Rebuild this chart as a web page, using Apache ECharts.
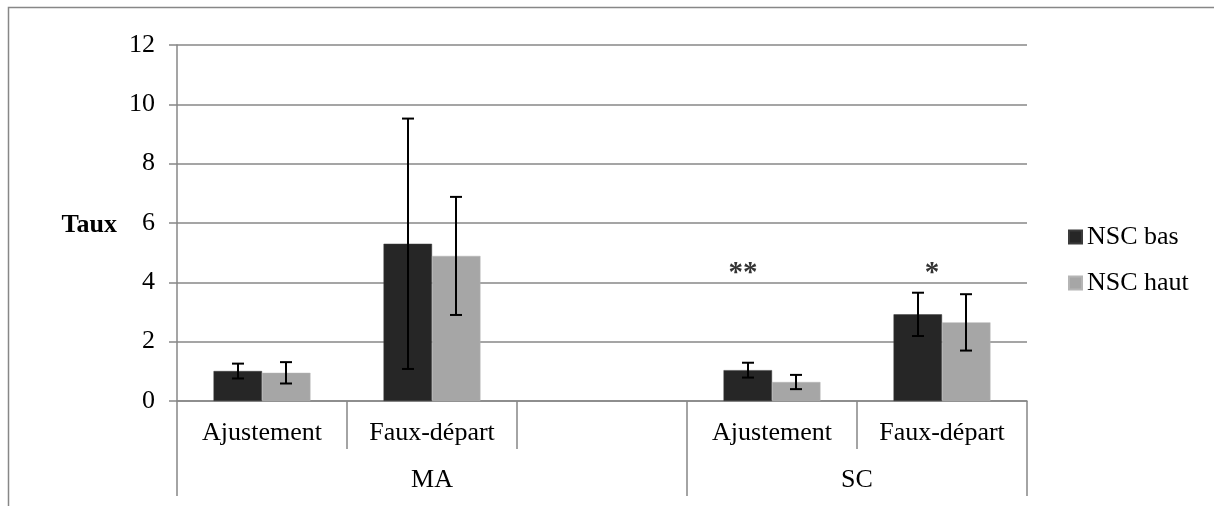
<!DOCTYPE html>
<html>
<head>
<meta charset="utf-8">
<script src="https://cdn.jsdelivr.net/npm/echarts@6/dist/echarts.min.js"></script>
<style>
html,body{margin:0;padding:0;background:#fff;}
#chart{width:1214px;height:506px;}
</style>
</head>
<body>
<div id="chart"></div>
<script>
// ---- data ----
var categories = ['Ajustement', 'Faux-départ', '', 'Ajustement', 'Faux-départ'];
var groups = ['MA', 'SC'];
var groupSpans = [3, 2];
var seriesNames = ['NSC bas', 'NSC haut'];
var nscBas = [1.01, 5.30, null, 1.04, 2.92];
var nscHaut = [0.95, 4.89, null, 0.64, 2.65];
var errBas = [0.25, 4.22, null, 0.25, 0.73];
var errHaut = [0.36, 1.99, null, 0.24, 0.95];
var yTicks = [0, 2, 4, 6, 8, 10, 12];
var stars = [
  { cat: 3, value: 4.3, text: '**' },
  { cat: 4, value: 4.3, text: '*' }
];
var yAxisTitle = 'Taux';

// ---- derived ----
var groupBounds = [0];
groupSpans.forEach(function (s, i) { groupBounds.push(groupBounds[i] + s); });
var groupCenters = groupSpans.map(function (s, i) { return groupBounds[i] + s / 2; });

var FONT = '"Liberation Serif", "Times New Roman", serif';
var GRID = '#878787';
var catGap = 0.43;

var errData = [];
[errBas, errHaut].forEach(function (errs, si) {
  var vals = si === 0 ? nscBas : nscHaut;
  errs.forEach(function (e, i) {
    if (e == null || vals[i] == null) return;
    errData.push([i, vals[i] - e, vals[i] + e, si]);
  });
});

var chart = echarts.init(document.getElementById('chart'));
chart.setOption({
  animation: false,
  backgroundColor: '#fff',
  textStyle: { fontFamily: FONT },
  grid: { left: 177, right: 187, top: 45, bottom: 105, containLabel: false },
  legend: {
    orient: 'vertical',
    left: 1063,
    top: 219,
    itemWidth: 13,
    itemHeight: 13,
    itemGap: 20,
    data: seriesNames,
    textStyle: { fontFamily: FONT, fontSize: 26, color: '#000', lineHeight: 26 },
    icon: 'rect'
  },
  xAxis: [{
    type: 'category',
    data: categories,
    axisLine: { lineStyle: { color: GRID, width: 1.5 } },
    axisTick: { show: true, interval: 0, length: 48, lineStyle: { color: GRID, width: 1.5 } },
    axisLabel: { interval: 0, fontFamily: FONT, fontSize: 26, color: '#000', margin: 19 },
    splitLine: { show: false }
  }, {
    type: 'value',
    min: 0,
    max: categories.length,
    position: 'bottom',
    axisLine: { show: false },
    splitLine: { show: false },
    axisTick: { show: true, customValues: groupBounds, length: 95, lineStyle: { color: GRID, width: 1.5 } },
    axisLabel: {
      customValues: groupCenters,
      fontFamily: FONT, fontSize: 26, color: '#000', margin: 66,
      formatter: function (v) {
        var idx = groupCenters.indexOf(v);
        return idx >= 0 ? groups[idx] : '';
      }
    }
  }],
  yAxis: {
    type: 'value',
    min: yTicks[0],
    max: yTicks[yTicks.length - 1],
    interval: yTicks[1] - yTicks[0],
    axisLine: { show: true, lineStyle: { color: GRID, width: 1.5 } },
    axisTick: { show: true, length: 8, lineStyle: { color: GRID, width: 1.5 } },
    axisLabel: { fontFamily: FONT, fontSize: 26, color: '#000', margin: 22 },
    splitLine: { show: true, lineStyle: { color: GRID, width: 1.5 } }
  },
  graphic: [{
    type: 'rect',
    shape: { x: 8.5, y: 7.5, width: 1400, height: 700 },
    style: { fill: 'none', stroke: GRID, lineWidth: 1.5 },
    silent: true
  }, {
    type: 'text',
    x: 117, y: 225,
    style: { text: yAxisTitle, fontFamily: FONT, fontSize: 26, fontWeight: 'bold', fill: '#000', textAlign: 'right', textVerticalAlign: 'middle' }
  }],
  series: [{
    name: seriesNames[0],
    type: 'bar',
    data: nscBas,
    barGap: '0%',
    barCategoryGap: (catGap * 100) + '%',
    itemStyle: { color: '#262626', borderColor: '#3a3a3a', borderWidth: 0.5 }
  }, {
    name: seriesNames[1],
    type: 'bar',
    data: nscHaut,
    barGap: '0%',
    barCategoryGap: (catGap * 100) + '%',
    itemStyle: { color: '#a6a6a6', borderColor: '#b5b5b5', borderWidth: 0.5 }
  }, {
    type: 'custom',
    data: errData,
    z: 10,
    renderItem: function (params, api) {
      var cat = api.value(0), lo = api.value(1), hi = api.value(2), si = api.value(3);
      var catW = api.size([1, 0])[0];
      var bw = catW * (1 - catGap) / 2;
      var off = si === 0 ? -bw / 2 : bw / 2;
      var pLo = api.coord([cat, lo]);
      var pHi = api.coord([cat, hi]);
      var x = Math.round(pLo[0] + off);
      var cap = 6;
      var st = { stroke: '#000', lineWidth: 2 };
      return {
        type: 'group',
        children: [
          { type: 'line', shape: { x1: x, y1: pLo[1], x2: x, y2: pHi[1] }, style: st },
          { type: 'line', shape: { x1: x - cap, y1: pLo[1], x2: x + cap, y2: pLo[1] }, style: st },
          { type: 'line', shape: { x1: x - cap, y1: pHi[1], x2: x + cap, y2: pHi[1] }, style: st }
        ]
      };
    }
  }, {
    type: 'scatter',
    data: stars.map(function (s) { return [s.cat, s.value, s.text]; }),
    symbolSize: 1,
    itemStyle: { color: 'rgba(0,0,0,0)' },
    z: 11,
    label: {
      show: true,
      position: 'inside',
      formatter: function (p) { return p.data[2]; },
      fontFamily: FONT, fontSize: 29, fontWeight: 'bold', color: '#000'
    },
    labelLayout: function (p) {
      return { dx: p.dataIndex === 0 ? -29 : -10 };
    }
  }]
});
</script>
</body>
</html>
